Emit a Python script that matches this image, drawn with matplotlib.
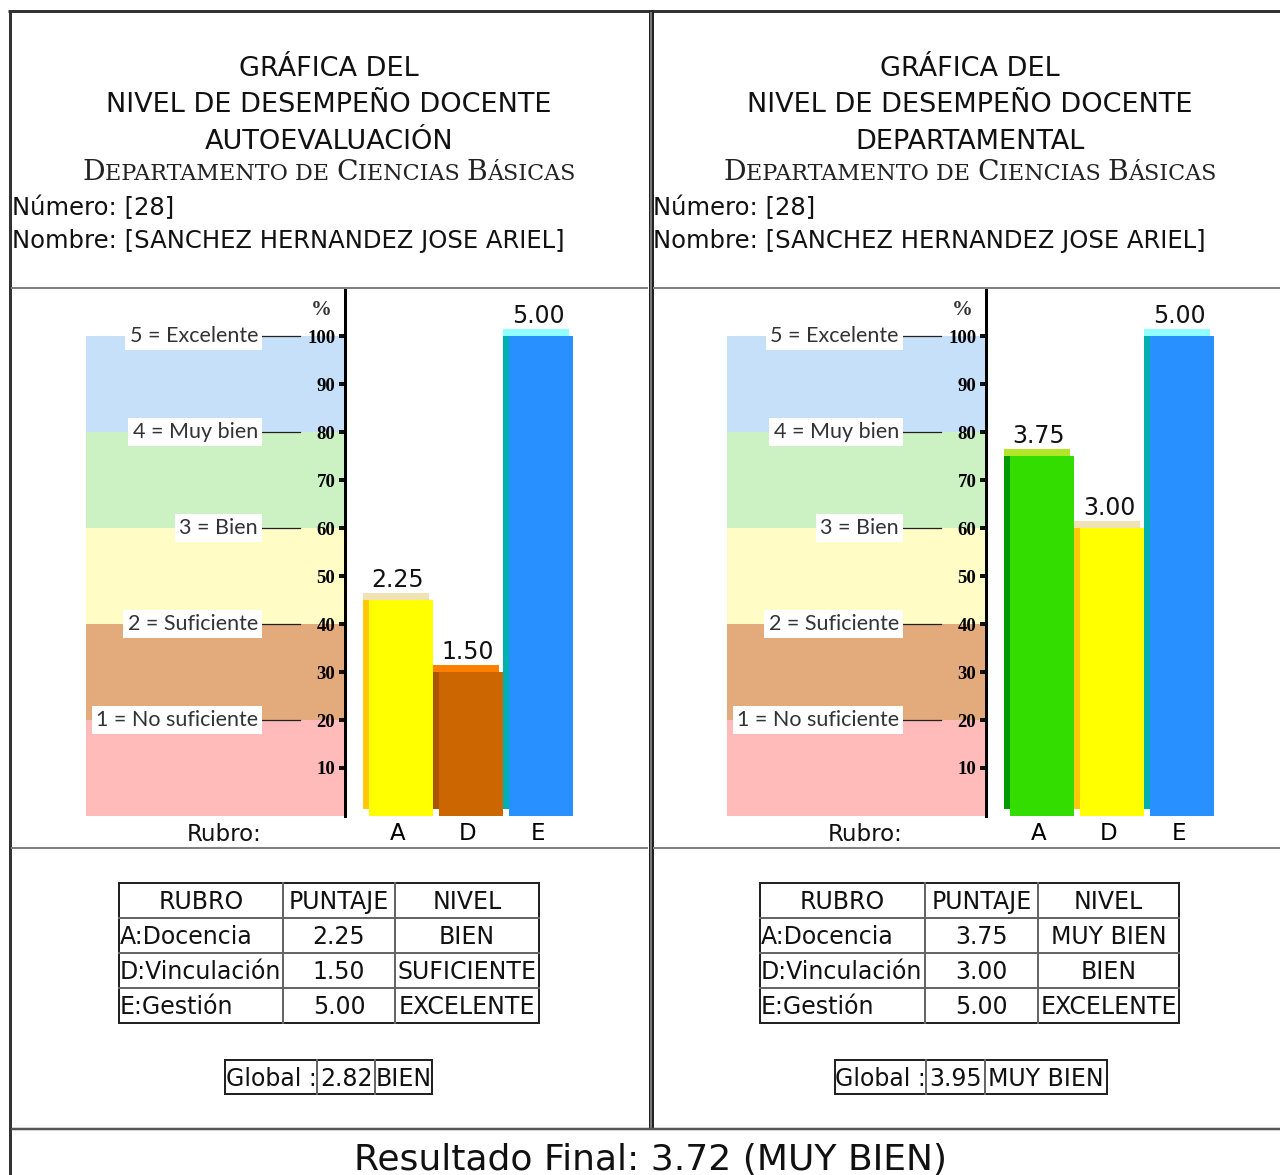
import re

import numpy as np
import matplotlib
matplotlib.use('Agg')
from matplotlib import pyplot as plt
from matplotlib.patches import Rectangle

W, H = 1280, 1175

# ---- data ----
rubros = ['A', 'D', 'E']
rubro_nombres = ['A:Docencia', 'D:Vinculación', 'E:Gestión']
puntaje_auto = [2.25, 1.50, 5.00]
nivel_auto = ['BIEN', 'SUFICIENTE', 'EXCELENTE']
puntaje_depto = [3.75, 3.00, 5.00]
nivel_depto = ['MUY BIEN', 'BIEN', 'EXCELENTE']
global_auto = [2.82, 'BIEN']
global_depto = [3.95, 'MUY BIEN']
resultado_final = [3.72, 'MUY BIEN']
escala_textos = ['1 = No suficiente', '2 = Suficiente', '3 = Bien', '4 = Muy bien', '5 = Excelente']
escala_pct = [20, 40, 60, 80, 100]
pct_ticks = [10, 20, 30, 40, 50, 60, 70, 80, 90, 100]
numero = 28
nombre = 'SANCHEZ HERNANDEZ JOSE ARIEL'
departamento = 'Departamento de Ciencias Básicas'

# ---- styles ----
band_colors = ['#ffbaba', '#e3ab7b', '#fffcc6', '#ccf2c4', '#c6e0f9']
bar_face = {'EXCELENTE': '#2891ff', 'MUY BIEN': '#33dd00', 'BIEN': '#ffff00', 'SUFICIENTE': '#cc6600'}
bar_strip = {'EXCELENTE': '#00b0b0', 'MUY BIEN': '#009a00', 'BIEN': '#ffc80a', 'SUFICIENTE': '#a85400'}
bar_cap = {'EXCELENTE': '#90ffff', 'MUY BIEN': '#b4e628', 'BIEN': '#f0e2b4', 'SUFICIENTE': '#ff7f00'}

SANS = 'DejaVu Sans'
SERIF = 'Liberation Serif'
CAPS_SERIF = 'DejaVu Serif'
SCALE_FONT = 'Lato'
DARK = '#333333'
GRAY = '#808080'


def px(p):
    return p * 0.72


fig = plt.figure(figsize=(12.8, 11.75), dpi=100)
bg = fig.add_axes([0, 0, 1, 1])
bg.set_xlim(0, W)
bg.set_ylim(H, 0)
bg.axis('off')

# ---- page frame ----
bg.plot([8, W], [10.5, 10.5], color=DARK, lw=px(3), solid_capstyle='butt')
bg.plot([9.5, 9.5], [10, H], color=DARK, lw=px(3), solid_capstyle='butt')
bg.plot([650.5, 650.5], [10, 1128], color='#222222', lw=px(5), solid_capstyle='butt')
bg.plot([650.5, 650.5], [12, 1128], color='#777777', lw=px(2), solid_capstyle='butt')
for yy in [288, 848]:
    bg.plot([11, 648], [yy, yy], color=GRAY, lw=px(2), solid_capstyle='butt')
    bg.plot([653, W], [yy, yy], color=GRAY, lw=px(2), solid_capstyle='butt')
bg.plot([11, W], [1128.5, 1128.5], color='#555555', lw=px(2.5), solid_capstyle='butt')

small_caps_groups = []


def small_caps(x_center, y_bottom, text, big, small):
    parts = re.findall(r'[A-ZÁÉÍÓÚÑ]+|[^A-ZÁÉÍÓÚÑ]+', text)
    arts = []
    prev = None
    prev_size = None
    for p in parts:
        size = big if p[0].isupper() else small
        if prev is None:
            t = bg.text(x_center, y_bottom, p.upper(), fontsize=size, family=CAPS_SERIF,
                        ha='left', va='bottom', color='#222222')
        else:
            delta = (prev_size - size) * 0.236
            t = bg.annotate(p.upper(), xy=(1, 0), xycoords=prev, xytext=(0, delta),
                            textcoords='offset points', fontsize=size, family=CAPS_SERIF,
                            ha='left', va='bottom', color='#222222')
        arts.append(t)
        prev = t
        prev_size = size
    small_caps_groups.append((x_center, arts))


def draw_grid(x0, y0, widths, row_h, rows, left_first, size):
    xs = np.concatenate([[x0], x0 + np.cumsum(widths)])
    n = len(rows)
    for i in range(1, n):
        bg.plot([x0, xs[-1]], [y0 + i * row_h] * 2, color='#666666', lw=px(2))
    for xx in xs[1:-1]:
        bg.plot([xx, xx], [y0, y0 + n * row_h], color='#666666', lw=px(2))
    bg.add_patch(Rectangle((x0, y0), xs[-1] - x0, n * row_h, fill=False,
                           ec='#222222', lw=px(2)))
    for r, row in enumerate(rows):
        for c, val in enumerate(row):
            yb = y0 + r * row_h + row_h / 2 + 8.5
            if c == 0 and left_first and r > 0:
                bg.text(xs[0] + 1, yb, val, ha='left', va='baseline', fontsize=size,
                        family=SANS, color='#111111')
            else:
                bg.text((xs[c] + xs[c + 1]) / 2, yb, val, ha='center', va='baseline',
                        fontsize=size, family=SANS, color='#111111')


def draw_panel(dx, subtitulo, puntajes, niveles, global_res, tab_widths, glob_x0, glob_widths):
    cx = 329 + dx
    bg.text(cx, 76, 'GRÁFICA DEL', ha='center', va='baseline', fontsize=19.5, family=SANS, color='#111111')
    bg.text(cx, 112, 'NIVEL DE DESEMPEÑO DOCENTE', ha='center', va='baseline', fontsize=19.5,
            family=SANS, color='#111111')
    bg.text(cx, 149, subtitulo, ha='center', va='baseline', fontsize=19.5, family=SANS, color='#111111')
    small_caps(cx, 186, departamento, 20.3, 16)
    bg.text(12 + dx, 215, f'Número: [{numero}]', ha='left', va='baseline', fontsize=17.5,
            family=SANS, color='#111111')
    bg.text(12 + dx, 248, f'Nombre: [{nombre}]', ha='left', va='baseline', fontsize=17.5,
            family=SANS, color='#111111')

    # bar chart
    left_px, right_px, top_px, zero_px = 86 + dx, 573 + dx, 290, 816
    ax = fig.add_axes([left_px / W, 1 - zero_px / H, (right_px - left_px) / W, (zero_px - top_px) / H])
    unit = 70.0
    xmin = -(398 - 86) / unit
    axis_x = -(398 - 345) / unit
    ytop = (zero_px - top_px) / 4.8
    ax.set_xlim(xmin, xmin + (right_px - left_px) / unit)
    ax.set_ylim(0, ytop)
    ax.patch.set_alpha(0)

    bounds = [0] + escala_pct
    for lo, hi, col in zip(bounds[:-1], bounds[1:], band_colors):
        ax.fill_between([xmin, axis_x], lo, hi, color=col, lw=0, zorder=0)
    for lvl, txt in zip(escala_pct, escala_textos):
        ax.plot([-2.0, -1.4], [lvl, lvl], color='#222222', lw=0.9, zorder=1)
        ax.text(-2.0, lvl, txt, ha='right', va='center', fontsize=15.5, family=SCALE_FONT,
                color='#333333', zorder=2,
                bbox=dict(boxstyle='square,pad=0.2', fc='white', ec='none'))
    ax.text(-1.09, 105.4, '%', ha='center', va='center', fontsize=15, family=SERIF,
            fontweight='bold', color='#333333')

    x = np.arange(len(rubros))
    pct = np.array(puntajes) * 20
    strip = 6 / unit
    cap = 1.5
    ax.bar(x + strip / 2, pct, width=1 - strip, color=[bar_face[n] for n in niveles], lw=0, zorder=3)
    ax.bar(x - 0.5 + strip / 2, pct - cap, bottom=cap, width=strip,
           color=[bar_strip[n] for n in niveles], lw=0, zorder=3)
    ax.bar(x - 0.5 + 0.943 / 2, cap, bottom=pct, width=0.943,
           color=[bar_cap[n] for n in niveles], lw=0, zorder=3)
    for xi, p, v in zip(x, pct, puntajes):
        ax.text(xi, p + cap + 0.2, f'{v:.2f}', ha='center', va='bottom', fontsize=17,
                family=SANS, color='#111111')

    for s in ['top', 'right', 'bottom']:
        ax.spines[s].set_visible(False)
    ax.spines['left'].set_position(('data', axis_x))
    ax.spines['left'].set_bounds(0, ytop)
    ax.spines['left'].set_linewidth(px(3))
    ax.set_yticks(pct_ticks, [str(t) for t in pct_ticks])
    ax.tick_params(axis='y', direction='out', length=4, width=px(4), pad=3, color='#111111')
    for lab in ax.get_yticklabels():
        lab.set_fontfamily(SERIF)
        lab.set_fontweight('bold')
        lab.set_fontsize(13.5)
    ax.set_xticks(x, rubros)
    ax.tick_params(axis='x', length=0, pad=4, labelsize=16.5)
    bg.text(224 + dx, 841, 'Rubro:', ha='center', va='baseline', fontsize=16.5, family=SANS,
            color='#111111')

    # tables
    rows = [['RUBRO', 'PUNTAJE', 'NIVEL']]
    for nm, v, nv in zip(rubro_nombres, puntajes, niveles):
        rows.append([nm, f'{v:.2f}', nv])
    draw_grid(119 + dx, 883, np.array(tab_widths), 35, rows, True, 17)
    draw_grid(glob_x0, 1060, np.array(glob_widths), 34,
              [['Global :', f'{global_res[0]:.2f}', global_res[1]]], False, 17)


draw_panel(0, 'AUTOEVALUACIÓN', puntaje_auto, nivel_auto, global_auto,
           [164, 112, 144], 225, [92, 58, 57])
draw_panel(641, 'DEPARTAMENTAL', puntaje_depto, nivel_depto, global_depto,
           [165, 113, 141], 835, [91, 59, 122])

bg.text(650, 1170, f'Resultado Final: {resultado_final[0]:.2f} ({resultado_final[1]})',
        ha='center', va='baseline', fontsize=26, family=SANS, color='#111111')

# center the small-caps department lines
fig.canvas.draw()
renderer = fig.canvas.get_renderer()
for cx, arts in small_caps_groups:
    x_left = arts[0].get_window_extent(renderer).x0
    x_right = arts[-1].get_window_extent(renderer).x1
    arts[0].set_x(cx - (x_right - x_left) / 2)

fig.savefig('out.png', dpi=100)
